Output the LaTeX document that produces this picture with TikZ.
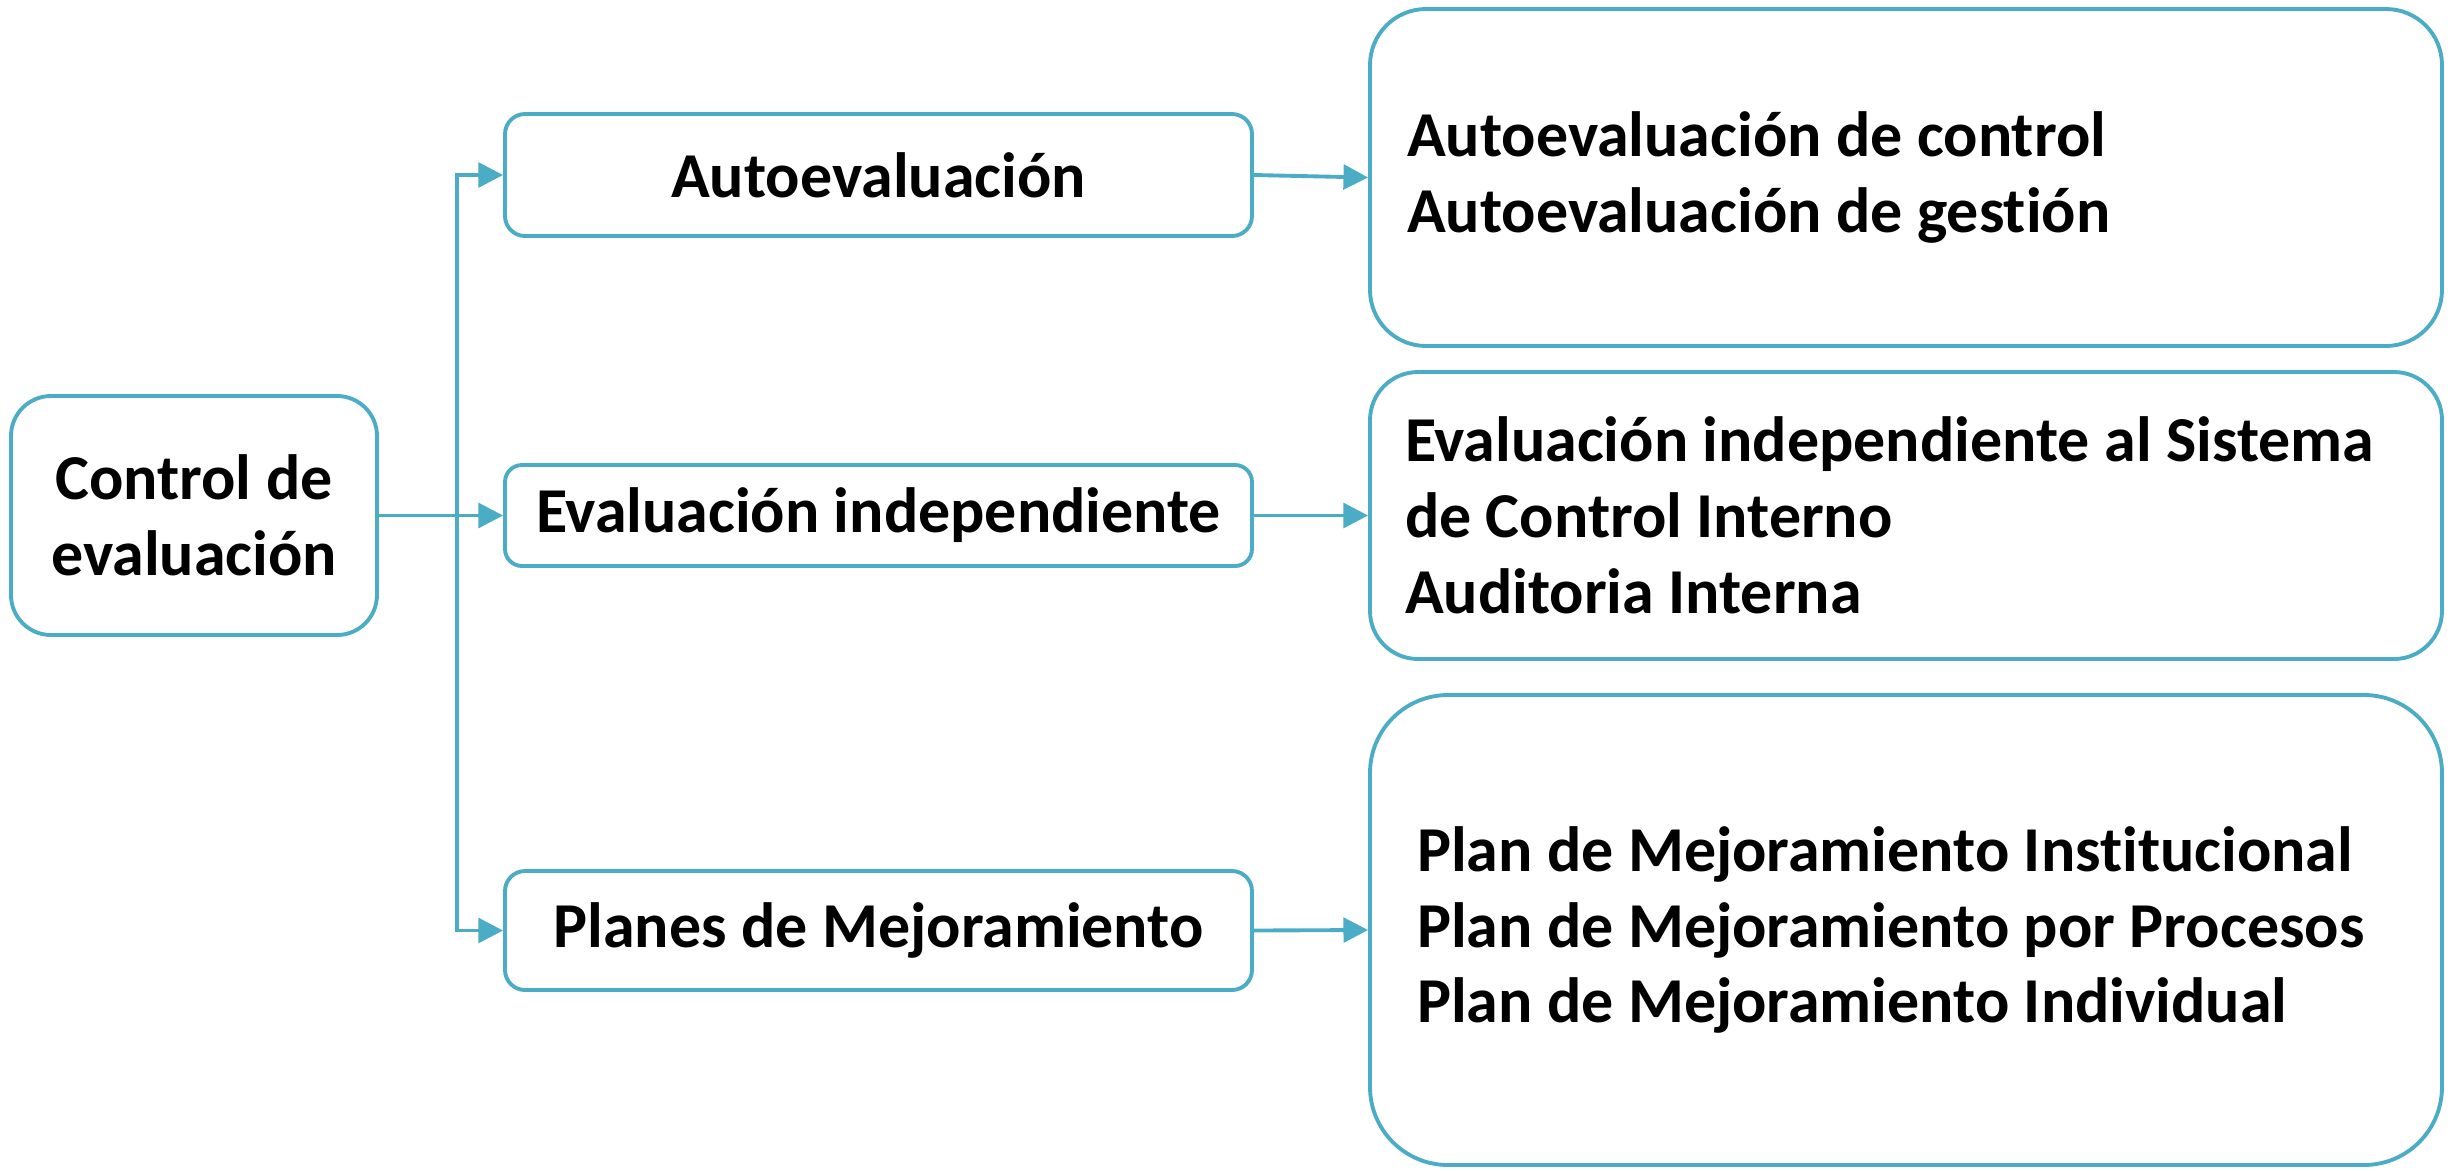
\documentclass[tikz,border=0pt]{standalone}
\usepackage{fontspec}
\setmainfont{Carlito}[Ligatures=NoCommon]
\usetikzlibrary{arrows.meta}
\definecolor{lineblue}{HTML}{4BACC6}
\tikzset{
  box/.style={draw=lineblue, line width=1.1pt, fill=white, inner sep=0pt,
    font=\bfseries\fontsize{18.2}{21.6}\selectfont, align=center},
  conn/.style={draw=lineblue, line width=1.1pt, -{Triangle[length=7pt,width=7pt]}},
}
\begin{document}
\begin{tikzpicture}[x=0.1mm,y=-0.1mm]
\useasboundingbox (0,0) rectangle (2453,1170);
\node[box, minimum width=36.6mm, minimum height=23.9mm, rounded corners=4mm] (ctrl) at (194,515.5) {Control de\\evaluación};
\node[box, minimum width=74.7mm, minimum height=12.2mm, rounded corners=2mm] (auto) at (878.5,175) {Autoevaluación};
\node[box, minimum width=74.7mm, minimum height=10.1mm, rounded corners=1.7mm] (eval) at (878.5,515.5) {Evaluación independiente};
\node[box, minimum width=74.7mm, minimum height=11.9mm, rounded corners=2mm] (planes) at (878.5,930.5) {Planes de Mejoramiento};
\node[box, minimum width=107.2mm, minimum height=33.7mm, rounded corners=5.6mm, inner xsep=3.7mm, text width=99.8mm, align=flush left] (r1) at (1906,177.5) {Autoevaluación de control\\Autoevaluación de gestión};
\node[box, minimum width=107.2mm, minimum height=28.7mm, rounded corners=4.8mm, inner xsep=3.5mm, text width=100.2mm, align=flush left] (r2) at (1906,515.5) {Evaluación independiente al Sistema\\de Control Interno\\Auditoria Interna};
\node[box, minimum width=107.2mm, minimum height=47mm, rounded corners=7.8mm, inner xsep=4.7mm, text width=97.8mm, align=flush left] (r3) at (1906,930) {Plan de Mejoramiento Institucional\\Plan de Mejoramiento por Procesos\\Plan de Mejoramiento Individual};
\coordinate (j) at (457,515.5);
\draw[conn] (ctrl.east) -- (eval.west);
\draw[conn] (j) |- (auto.west);
\draw[conn] (j) |- (planes.west);
\draw[conn] (auto.east) -- (r1.west);
\draw[conn] (eval.east) -- (r2.west);
\draw[conn] (planes.east) -- (r3.west);
\end{tikzpicture}
\end{document}
